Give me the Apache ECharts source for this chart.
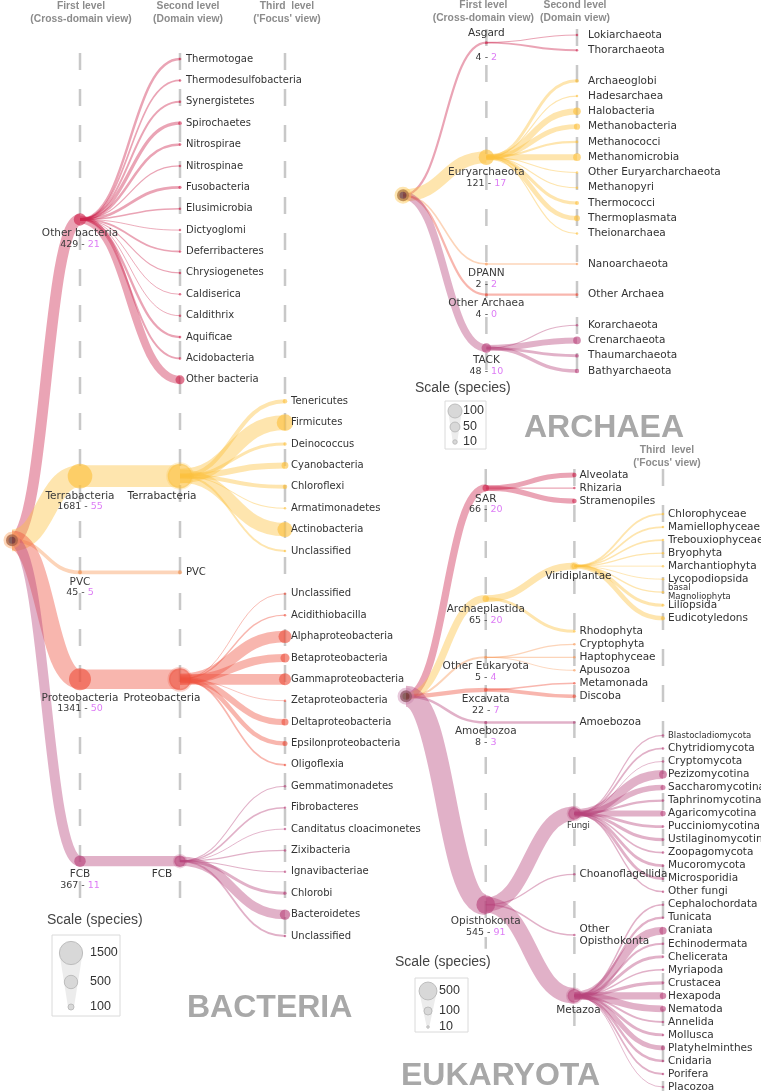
<!DOCTYPE html>
<html><head><meta charset="utf-8">
<script src="https://cdn.jsdelivr.net/npm/echarts@6/dist/echarts.min.js"></script>
<style>html,body{margin:0;padding:0;background:#fff}#main{width:761px;height:1091px}</style>
</head><body><div id="main"></div>
<script>
// ================= DATA =================
// BACTERIA
const bacteriaGroups  = ['Other bacteria', 'Terrabacteria', 'PVC', 'Proteobacteria', 'FCB'];
const bacteriaSpecies = [429, 1681, 45, 1341, 367];
const bacteriaFocus   = [21, 55, 5, 50, 11];
const otherBacteriaPhyla   = ['Thermotogae','Thermodesulfobacteria','Synergistetes','Spirochaetes','Nitrospirae','Nitrospinae','Fusobacteria','Elusimicrobia','Dictyoglomi','Deferribacteres','Chrysiogenetes','Caldiserica','Caldithrix','Aquificae','Acidobacteria','Other bacteria'];
const otherBacteriaSpecies = [21, 10, 14, 38, 21, 5, 27, 8, 3, 12, 4, 3, 3, 19, 14, 227];
const terrabacteriaPhyla   = ['Tenericutes','Firmicutes','Deinococcus','Cyanobacteria','Chloroflexi','Armatimonadetes','Actinobacteria','Unclassified'];
const terrabacteriaSpecies = [57, 759, 32, 128, 57, 4, 630, 14];
const proteobacteriaClasses = ['Unclassified','Acidithiobacilla','Alphaproteobacteria','Betaproteobacteria','Gammaproteobacteria','Zetaproteobacteria','Deltaproteobacteria','Epsilonproteobacteria','Oligoflexia'];
const proteobacteriaSpecies = [3, 7, 476, 230, 404, 2, 137, 71, 11];
const fcbPhyla   = ['Gemmatimonadetes','Fibrobacteres','Canditatus cloacimonetes','Zixibacteria','Ignavibacteriae','Chlorobi','Bacteroidetes','Unclassified'];
const fcbSpecies = [4, 8, 3, 6, 4, 30, 300, 12];

// ARCHAEA
const archaeaGroups  = ['Asgard', 'Euryarchaeota', 'DPANN', 'Other Archaea', 'TACK'];
const archaeaSpecies = [4, 121, 2, 4, 48];
const archaeaFocus   = [2, 17, 2, 0, 10];
const asgardPhyla = ['Lokiarchaeota','Thorarchaeota'];
const asgardSpecies = [1, 3];
const euryarchaeotaClasses = ['Archaeoglobi','Hadesarchaea','Halobacteria','Methanobacteria','Methanococci','Methanomicrobia','Other Euryarcharchaeota','Methanopyri','Thermococci','Thermoplasmata','Theionarchaea'];
const euryarchaeotaSpecies = [7, 1, 30, 20, 4, 30, 1, 1, 8, 18, 1];
const dpannPhyla = ['Nanoarchaeota'];
const dpannSpecies = [2];
const otherArchaeaPhyla = ['Other Archaea'];
const otherArchaeaSpecies = [4];
const tackPhyla = ['Korarchaeota','Crenarchaeota','Thaumarchaeota','Bathyarchaeota'];
const tackSpecies = [1, 30, 7, 10];

// EUKARYOTA
const eukaryotaGroups  = ['SAR', 'Archaeplastida', 'Other Eukaryota', 'Excavata', 'Amoebozoa', 'Opisthokonta'];
const eukaryotaSpecies = [66, 65, 5, 22, 8, 545];
const eukaryotaFocus   = [20, 20, 4, 7, 3, 91];
const sarTaxa = ['Alveolata','Rhizaria','Stramenopiles'];
const sarSpecies = [30, 2, 34];
const archaeplastidaTaxa = ['Viridiplantae','Rhodophyta'];
const archaeplastidaSpecies = [55, 10];
const otherEukaryotaTaxa = ['Cryptophyta','Haptophyceae','Apusozoa'];
const otherEukaryotaSpecies = [2, 2, 1];
const excavataTaxa = ['Metamonada','Discoba'];
const excavataSpecies = [3, 19];
const amoebozoaTaxa = ['Amoebozoa'];
const amoebozoaSpecies = [8];
const opisthokontaTaxa = ['Fungi','Choanoflagellida','Other\nOpisthokonta','Metazoa'];
const opisthokontaSpecies = [240, 2, 3, 300];
const plantTaxa = ['Chlorophyceae','Mamiellophyceae','Trebouxiophyceae','Bryophyta','Marchantiophyta','Lycopodiopsida','basal\nMagnoliophyta','Liliopsida','Eudicotyledons'];
const plantSpecies = [4, 4, 3, 2, 1, 1, 2, 12, 26];
const fungiTaxa = ['Blastocladiomycota','Chytridiomycota','Cryptomycota','Pezizomycotina','Saccharomycotina','Taphrinomycotina','Agaricomycotina','Pucciniomycotina','Ustilaginomycotina','Zoopagomycota','Mucoromycota','Microsporidia','Other fungi'];
const fungiSpecies = [2, 4, 1, 95, 40, 6, 45, 10, 12, 3, 10, 10, 2];
const metazoaTaxa = ['Cephalochordata','Tunicata','Craniata','Echinodermata','Chelicerata','Myriapoda','Crustacea','Hexapoda','Nematoda','Annelida','Mollusca','Platyhelminthes','Cnidaria','Porifera','Placozoa'];
const metazoaSpecies = [3, 6, 83, 5, 10, 3, 12, 65, 55, 5, 10, 30, 8, 4, 1];

// legend scale values
const bacteriaScale = [1500, 500, 100];
const archaeaScale = [100, 50, 10];
const eukaryotaScale = [500, 100, 10];

// ================= TREE BUILDING =================
function leaves(names, values) { return names.map((n, i) => ({ name: n, value: values[i], children: [] })); }
function node(name, value, children, focus) { return { name, value, focus, children: children || [] }; }

const bacteriaTree = node('root', null, [
  node(bacteriaGroups[0], bacteriaSpecies[0], leaves(otherBacteriaPhyla, otherBacteriaSpecies), bacteriaFocus[0]),
  node(bacteriaGroups[1], bacteriaSpecies[1], [node(bacteriaGroups[1], bacteriaSpecies[1], leaves(terrabacteriaPhyla, terrabacteriaSpecies))], bacteriaFocus[1]),
  node(bacteriaGroups[2], bacteriaSpecies[2], [node(bacteriaGroups[2], bacteriaSpecies[2])], bacteriaFocus[2]),
  node(bacteriaGroups[3], bacteriaSpecies[3], [node(bacteriaGroups[3], bacteriaSpecies[3], leaves(proteobacteriaClasses, proteobacteriaSpecies))], bacteriaFocus[3]),
  node(bacteriaGroups[4], bacteriaSpecies[4], [node(bacteriaGroups[4], bacteriaSpecies[4], leaves(fcbPhyla, fcbSpecies))], bacteriaFocus[4])
]);

const archaeaChildren = [[asgardPhyla, asgardSpecies], [euryarchaeotaClasses, euryarchaeotaSpecies], [dpannPhyla, dpannSpecies], [otherArchaeaPhyla, otherArchaeaSpecies], [tackPhyla, tackSpecies]];
const archaeaTree = node('root', null, archaeaGroups.map((g, i) =>
  node(g, archaeaSpecies[i], leaves(archaeaChildren[i][0], archaeaChildren[i][1]), archaeaFocus[i])));

const thirdLevel = { 'Viridiplantae': [plantTaxa, plantSpecies], 'Fungi': [fungiTaxa, fungiSpecies], 'Metazoa': [metazoaTaxa, metazoaSpecies] };
const eukaryotaChildren = [[sarTaxa, sarSpecies], [archaeplastidaTaxa, archaeplastidaSpecies], [otherEukaryotaTaxa, otherEukaryotaSpecies], [excavataTaxa, excavataSpecies], [amoebozoaTaxa, amoebozoaSpecies], [opisthokontaTaxa, opisthokontaSpecies]];
const eukaryotaTree = node('root', null, eukaryotaGroups.map((g, i) =>
  node(g, eukaryotaSpecies[i], eukaryotaChildren[i][0].map((n, j) => {
    const t = thirdLevel[n];
    return node(n, eukaryotaChildren[i][1][j], t ? leaves(t[0], t[1]) : []);
  }), eukaryotaFocus[i])));

// ================= LAYOUT (rows) =================
function layoutTree(root, gap, minSep) {
  let row = 0;
  const all = [];
  function visit(n, depth, gi, parent) {
    n.depth = depth; n.group = gi; n.parent = parent; all.push(n);
    if (!n.children.length) { if (!n.floating) n.row = row++; return; }
    const ch = n.children;
    ch.forEach((c, i) => {
      c.floating = !c.children.length && ch.slice(0, i).some(s => s.children.length) && ch.slice(i + 1).some(s => s.children.length);
    });
    ch.forEach(c => visit(c, depth + 1, gi, n));
    let i = 0;
    while (i < ch.length) {
      if (ch[i].floating) {
        let j = i; while (ch[j].floating) j++;
        const a = ch[i - 1].row, b = ch[j].row, k = j - i + 1;
        for (let m = i; m < j; m++) ch[m].row = a + (b - a) * (m - i + 1) / k;
        i = j;
      } else i++;
    }
    n.row = (ch[0].row + ch[ch.length - 1].row) / 2;
  }
  root.depth = 0; root.parent = null; all.push(root);
  let prevL1 = null;
  root.children.forEach((g, gi) => {
    if (gi > 0) row += gap;
    const start = all.length;
    visit(g, 1, gi, root);
    if (prevL1 !== null && g.row - prevL1 < minSep) {
      const d = minSep - (g.row - prevL1);
      for (let m = start; m < all.length; m++) all[m].row += d;
      row += d;
    }
    prevL1 = g.row;
  });
  root.row = (root.children[0].row + root.children[root.children.length - 1].row) / 2;
  return { lastRow: row - 1, nodes: all };
}

// ================= STYLE =================
const FONT = '"DejaVu Sans", sans-serif';
const HFONT = '"Liberation Sans", Arial, sans-serif';
const palette = { crimson: [206, 38, 78], yellow: [252, 192, 62], orange: [247, 152, 88], red: [238, 82, 62], mauve: [184, 68, 124] };
const rgba = (c, a) => `rgba(${c[0]},${c[1]},${c[2]},${a})`;
const smallLabels = ['basal\nMagnoliophyta', 'Blastocladiomycota', 'Fungi'];

const domains = [
  { tree: bacteriaTree, gap: 0, minSep: 0, box: { left: 12, top: 59, width: 273, height: 877 }, levelPos: [0, 0.68, 1.68, 2.73],
    circleK: 0.6, widthK: 0.53, leafFont: 10, l1Font: 10.5, leafDx: 6, innerDx: -18, headerTop: 0,
    headers: [null, 'First level\n(Cross-domain view)', 'Second level\n(Domain view)', "Third  level\n('Focus' view)"], headerDx: [0, 1, 8, 2],
    colors: ['crimson', 'yellow', 'orange', 'red', 'mauve'], above: [], halo: 'rgba(250,160,90,0.55)' },
  { tree: archaeaTree, gap: 1, minSep: 0, box: { left: 403, top: 35, width: 174, height: 336 }, levelPos: [0, 0.92, 1.92],
    circleK: 1.4, widthK: 1.1, leafFont: 10.5, l1Font: 10.5, leafDx: 11, innerDx: 0, headerTop: -1,
    headers: [null, 'First level\n(Cross-domain view)', 'Second level\n(Domain view)'], headerDx: [0, -3, -2],
    colors: ['crimson', 'yellow', 'orange', 'red', 'mauve'], above: ['Asgard'], halo: 'rgba(252,200,90,0.6)' },
  { tree: eukaryotaTree, gap: 0, minSep: 2.5, box: { left: 406, top: 475, width: 257, height: 612 }, levelPos: [0, 0.9, 1.9, 2.9],
    circleK: 0.8, widthK: 0.9, leafFont: 10.5, l1Font: 10.5, leafDx: 5, innerDx: 4, headerTop: 444,
    headers: [null, null, null, "Third  level\n('Focus' view)"], headerDx: [0, 0, 0, 4],
    colors: ['crimson', 'yellow', 'orange', 'red', 'mauve', 'mauve'], above: [], halo: 'rgba(200,130,170,0.55)' }
];

const option = { animation: false, backgroundColor: '#fff', grid: [], xAxis: [], yAxis: [], series: [], graphic: [] };

domains.forEach((st, di) => {
  const { lastRow, nodes } = layoutTree(st.tree, st.gap, st.minSep);
  const lp = st.levelPos;
  const pxPerRow = st.box.height / lastRow;
  option.grid.push(Object.assign({}, st.box));
  option.xAxis.push({ type: 'value', gridIndex: di, min: 0, max: lp[lp.length - 1], show: false });
  option.yAxis.push({ type: 'value', gridIndex: di, min: 0, max: lastRow, inverse: true, show: false });

  const col = n => palette[st.colors[n.group]];
  nodes.forEach(n => {
    n.size = n.depth === 0 ? 12 : Math.max(n.children.length ? 3 : 2.5, st.circleK * Math.sqrt(n.value));
  });

  // guides + headers
  const maxDepth = lp.length - 1;
  const guides = [];
  for (let l = 1; l <= maxDepth; l++) {
    let best = null, bestPx = -1;
    nodes.filter(n => n.depth === l).forEach(n => {
      const off = n.children.length ? 44 : 5;
      const px = n.row * pxPerRow + off;
      if (px > bestPx) { bestPx = px; best = { row: n.row, off }; }
    });
    guides.push({ x: lp[l], endRow: best.row, endDy: best.off, header: st.headers[l], hdx: st.headerDx[l] });
  }
  option.series.push({
    type: 'custom', xAxisIndex: di, yAxisIndex: di, z: 1, silent: true, clip: false,
    data: guides.map(g => [g.x, 0, g.endRow]),
    renderItem: (params, api) => {
      const g = guides[params.dataIndex];
      const p1 = api.coord([g.x, 0]), p2 = api.coord([g.x, g.endRow]);
      const ch = [{ type: 'line', shape: { x1: p1[0], y1: p1[1] - 6, x2: p1[0], y2: p2[1] + g.endDy },
        style: { stroke: '#c8c8c8', lineWidth: 2.5, lineDash: [17, 19] } }];
      if (g.header) ch.push({ type: 'text', x: p1[0] + g.hdx, y: st.headerTop,
        style: { text: g.header, font: `bold 10.3px ${HFONT}`, fill: '#8c8c8c', align: 'center', verticalAlign: 'top', lineHeight: 12.5 } });
      return { type: 'group', children: ch };
    }
  });

  // links
  const links = nodes.filter(n => n.parent).map(n => ({
    x1: lp[n.parent.depth], y1: n.parent.row, x2: lp[n.depth], y2: n.row, v: n.value, c: col(n)
  }));
  option.series.push({
    type: 'custom', xAxisIndex: di, yAxisIndex: di, z: 2, silent: true, clip: false,
    data: links.map(l => [l.x1, l.y1, l.x2, l.y2, l.v]),
    encode: { x: [0, 2], y: [1, 3] },
    renderItem: (params, api) => {
      const l = links[params.dataIndex];
      const p1 = api.coord([api.value(0), api.value(1)]);
      const p2 = api.coord([api.value(2), api.value(3)]);
      const mx = (p1[0] + p2[0]) / 2;
      return { type: 'bezierCurve',
        shape: { x1: p1[0], y1: p1[1], x2: p2[0], y2: p2[1], cpx1: mx, cpy1: p1[1], cpx2: mx, cpy2: p2[1] },
        style: { fill: 'none', stroke: rgba(l.c, 0.42), lineWidth: Math.max(0.8, st.widthK * Math.sqrt(api.value(4))) } };
    }
  });

  // nodes
  option.series.push({
    type: 'scatter', xAxisIndex: di, yAxisIndex: di, z: 3, silent: true,
    data: nodes.map(n => {
      if (n.depth === 0) return { value: [lp[0], n.row], symbolSize: 12, itemStyle: { color: '#6d3a37', borderColor: st.halo, borderWidth: 5 } };
      const c = col(n);
      const inner = n.children.length && n.depth >= 2;
      return { value: [lp[n.depth], n.row], symbolSize: n.size,
        itemStyle: { color: rgba(c, n.depth === 1 ? 0.8 : 0.78), borderColor: inner ? rgba(c, 0.3) : 'transparent', borderWidth: inner ? 3 : 0 } };
    })
  });

  // labels
  const specs = [];
  const richBase = {
    n: { font: `${st.l1Font}px ${FONT}`, fill: '#3a3a3a', lineHeight: 11 },
    c: { font: `9.5px ${FONT}`, fill: '#3a3a3a', lineHeight: 11 },
    f: { font: `9.5px ${FONT}`, fill: '#dd7cf5', lineHeight: 11 }
  };
  nodes.forEach(n => {
    if (n.depth === 0) return;
    const x = lp[n.depth], y = n.row;
    const small = smallLabels.includes(n.name);
    if (!n.children.length) {
      specs.push({ x, y, dx: st.leafDx, dy: 0, text: n.name, align: 'left', va: 'middle',
        font: `${small ? 8.5 : st.leafFont}px ${FONT}`, lh: small ? 9 : 11.5 });
    } else if (n.depth === 1) {
      const num = `{c|${n.value} - }{f|${n.focus}}`;
      if (st.above.includes(n.name)) {
        specs.push({ x, y, dx: 0, dy: -(n.size / 2 + 2), text: n.name, align: 'center', va: 'bottom', font: `${st.l1Font}px ${FONT}` });
        specs.push({ x, y, dx: 0, dy: n.size / 2 + 8, text: num, rich: richBase, align: 'center', va: 'top', font: `9.5px ${FONT}` });
      } else {
        specs.push({ x, y, dx: 0, dy: n.size / 2 + 2, text: `{n|${n.name}}\n${num}`, rich: richBase, align: 'center', va: 'top', font: `${st.l1Font}px ${FONT}` });
      }
    } else {
      specs.push({ x, y, dx: st.innerDx, dy: n.size / 2 + 2, text: n.name, align: 'center', va: 'top', font: `${small ? 8.5 : st.l1Font}px ${FONT}` });
    }
  });
  option.series.push({
    type: 'custom', xAxisIndex: di, yAxisIndex: di, z: 4, silent: true, clip: false,
    data: specs.map(s => [s.x, s.y]),
    renderItem: (params, api) => {
      const s = specs[params.dataIndex];
      const p = api.coord([api.value(0), api.value(1)]);
      const style = { text: s.text, font: s.font, fill: '#333', align: s.align, verticalAlign: s.va };
      if (s.rich) style.rich = s.rich;
      if (s.lh) style.lineHeight = s.lh;
      return { type: 'text', x: p[0] + s.dx, y: p[1] + s.dy, style };
    }
  });
});

// ================= LEGENDS & TITLES =================
function scaleLegend(values, k, tx, ty, box, cx, ys, lx) {
  const els = [];
  els.push({ type: 'text', x: tx, y: ty, style: { text: 'Scale (species)', font: `14px ${HFONT}`, fill: '#444', verticalAlign: 'middle' } });
  els.push({ type: 'rect', shape: box, style: { fill: 'none', stroke: '#dadada', lineWidth: 1 } });
  const r = values.map(v => k * Math.sqrt(v) / 2);
  els.push({ type: 'polygon', shape: { points: [[cx - r[0], ys[0]], [cx + r[0], ys[0]], [cx + r[2], ys[2]], [cx - r[2], ys[2]]] }, style: { fill: '#ececec' } });
  values.forEach((v, i) => {
    els.push({ type: 'circle', shape: { cx, cy: ys[i], r: Math.max(1.2, r[i]) }, style: { fill: '#d8d8d8', stroke: '#bdbdbd', lineWidth: 1 } });
    els.push({ type: 'text', x: lx, y: ys[i], style: { text: String(v), font: `12.5px ${HFONT}`, fill: '#333', verticalAlign: 'middle' } });
  });
  return els;
}
const titleFont = `bold 32px ${HFONT}`;
option.graphic = [].concat(
  scaleLegend(bacteriaScale, domains[0].circleK, 47, 920, { x: 52, y: 935, width: 68, height: 81 }, 71, [953, 982, 1007], 90),
  scaleLegend(archaeaScale, domains[1].circleK, 415, 388, { x: 445, y: 401, width: 41, height: 48 }, 455, [411, 427, 442], 463),
  scaleLegend(eukaryotaScale, domains[2].circleK, 395, 962, { x: 415, y: 978, width: 53, height: 54 }, 428, [991, 1011, 1027], 439),
  [
    { type: 'text', x: 187, y: 1008, style: { text: 'BACTERIA', font: titleFont, fill: '#a8a8a8', verticalAlign: 'middle' } },
    { type: 'text', x: 524, y: 428, style: { text: 'ARCHAEA', font: titleFont, fill: '#a8a8a8', verticalAlign: 'middle' } },
    { type: 'text', x: 401, y: 1076, style: { text: 'EUKARYOTA', font: titleFont, fill: '#a8a8a8', verticalAlign: 'middle' } }
  ]
);

const chart = echarts.init(document.getElementById('main'));
chart.setOption(option);
</script>
</body></html>
